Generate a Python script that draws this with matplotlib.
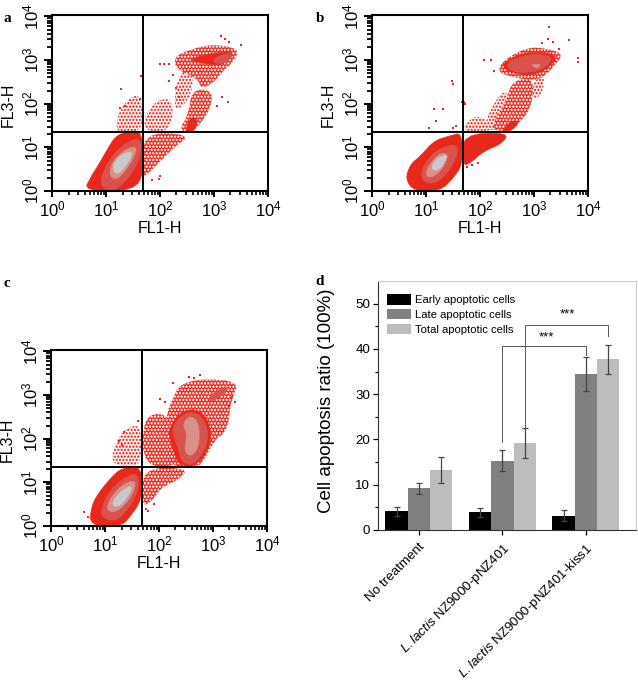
import numpy as np
import matplotlib
matplotlib.use("Agg")
import matplotlib.pyplot as plt
from matplotlib.ticker import LogLocator, NullFormatter

plt.rcParams['font.family'] = ['Liberation Sans', 'DejaVu Sans']
plt.rcParams['mathtext.fontset'] = 'custom'
plt.rcParams['mathtext.rm'] = 'Liberation Sans'
plt.rcParams['mathtext.it'] = 'Liberation Sans:italic'
plt.rcParams['hatch.linewidth'] = 0.3

# all flow cytometry outlines are (log10 FL1, log10 FL3)
RED = '#e8281a'
MED = '#d9534c'
PINK = '#d98f8a'
GREY = '#c9c9c9'

a_thin = [
    [(1.15,1.3),(1.25,1.9),(1.55,2.25),(1.67,2.0),(1.67,1.36)],
    [(1.7,1.36),(1.72,1.75),(1.95,2.1),(2.25,2.1),(2.2,1.36)],
    [(2.25,1.75),(2.3,2.6),(2.6,2.9),(2.6,2.2)],
]
a_speck = [
    [(1.67,1.34),(2.57,1.3),(2.26,1.0),(2.07,.77),(1.76,.38),(1.67,.34)],
    [(2.35,1.4),(2.51,1.72),(2.6,2.34),(2.98,2.3),(2.92,1.84),(2.7,1.49),(2.57,1.3)],
    [(2.26,3.07),(2.51,3.22),(2.95,3.37),(3.48,3.26),(3.35,2.95),(3.17,2.76),(3.0,2.49),(2.76,2.34),(2.7,2.57),(2.29,2.8)],
]
a_red = [
    [(.58,0),(.72,.34),(.86,.61),(1.02,.96),(1.17,1.26),(1.42,1.38),(1.67,1.36),(1.71,.46),(1.51,0)],
    [(2.45,1.3),(2.65,1.4),(2.7,1.65),(2.55,1.7)],
    [(2.5,3.0),(2.9,3.15),(3.4,3.2),(3.2,2.9),(2.9,2.9)],
]
a_med = [
    [(.89,.31),(1.08,.77),(1.36,1.11),(1.65,1.23),(1.64,.77),(1.42,.31),(1.2,.04),(1.02,0),(.92,.11)],
    [(3.0,3.07),(3.35,3.18),(3.26,2.95),(3.0,2.91)],
]
a_pink = [[(1.05,.46),(1.17,.77),(1.42,1.0),(1.58,1.0),(1.48,.69),(1.26,.31),(1.11,.27)]]
a_grey = [[(1.11,.57),(1.23,.8),(1.45,.92),(1.48,.8),(1.3,.46),(1.17,.38)]]
a_dots_x = [1.64,1.28,3.12,3.2,3.28,3.5,1.99,2.07,2.17,2.17,2.23,2.29,2.35,3.15,3.25,3.05,1.25,1.35,1.62,2.0,1.98,1.85]
a_dots_y = [2.64,2.34,3.56,3.48,3.42,3.34,2.91,2.91,2.91,2.53,2.65,2.35,2.15,2.15,2.05,1.95,1.9,1.95,2.1,.35,.27,.25]

b_thin = [
    [(2.05,1.4),(2.2,1.9),(2.45,2.35),(2.6,2.0),(2.4,1.4)],
    [(1.7,1.36),(1.72,1.55),(1.95,1.75),(2.2,1.55),(2.2,1.36)],
    [(3.0,2.55),(3.2,2.65),(3.15,2.2),(2.95,2.1)],
]
b_speck = [
    [(2.17,1.42),(2.48,2.07),(2.6,2.53),(3.0,2.6),(2.95,1.92),(2.76,1.61),(2.54,1.34)],
    [(2.32,2.72),(2.42,2.99),(2.88,3.3),(3.26,3.26),(3.54,3.14),(3.38,2.87),(3.2,2.64),(3.0,2.53),(2.64,2.6)],
]
b_red = [
    [(.61,.27),(.7,.61),(.89,.8),(1.14,1.15),(1.42,1.26),(1.67,1.34),(1.67,.61),(1.51,.31),(1.26,0),(.77,0)],
    [(1.67,1.3),(2.54,1.34),(2.39,1.07),(2.07,.92),(1.79,.61),(1.67,.61)],
    [(2.4,1.35),(2.55,1.35),(2.75,1.6),(2.55,1.6)],
    [(2.4,2.85),(2.5,3.0),(2.88,3.2),(3.45,3.14),(3.3,2.85),(3.0,2.65),(2.6,2.7)],
]
b_med = [
    [(.89,.23),(.95,.61),(1.17,.92),(1.48,1.07),(1.6,1.0),(1.51,.61),(1.2,.15)],
    [(2.48,2.95),(2.88,3.14),(3.35,3.1),(3.26,2.87),(3.0,2.72),(2.57,2.72)],
]
b_pink = [
    [(.98,.34),(1.05,.61),(1.26,.88),(1.42,.84),(1.3,.5),(1.11,.31)],
    [(2.92,2.9),(3.13,2.91),(3.07,2.8)],
]
b_grey = [[(1.08,.5),(1.17,.73),(1.36,.84),(1.39,.77),(1.23,.46)]]
b_dots_x = [1.47,1.5,1.15,1.3,1.05,1.17,1.67,1.7,1.72,1.68,3.27,3.15,3.25,3.35,3.65,3.82,3.82,3.47,2.07,2.2,2.25,1.5,1.55,1.75,1.85,1.95]
b_dots_y = [2.53,2.45,1.87,1.87,1.45,1.6,2.05,2.05,2.0,1.5,3.75,3.4,3.48,3.42,3.45,3.05,2.95,3.25,3.0,3.0,2.75,1.45,1.5,.55,.6,.65]

c_thin = [
    [(1.09,1.5),(1.25,2.12),(1.59,2.35),(1.67,2.1),(1.65,1.36),(1.3,1.36)],
]
c_speck = [
    [(1.7,1.36),(1.7,2.5),(2.1,2.6),(2.3,2.2),(2.4,1.36)],
    [(2.15,2.65),(2.27,2.96),(2.37,3.23),(2.77,3.38),(3.49,3.31),(3.33,2.88),(3.27,2.19),(3.02,1.96),(2.83,1.5),(2.71,1.35),(2.2,1.35),(2.1,2.0)],
    [(1.68,1.33),(2.55,1.33),(2.35,1.05),(2.05,.9),(1.85,.55),(1.68,.45)],
]
c_red = [
    [(.7,0),(.75,.5),(.9,.8),(1.1,1.1),(1.3,1.33),(1.68,1.38),(1.68,.6),(1.45,.2),(1.3,0)],
    [(2.15,2.2),(2.45,2.7),(2.85,2.6),(3.0,2.0),(2.75,1.4),(2.35,1.38),(2.25,1.8)],
]
c_med = [
    [(.9,.2),(.98,.6),(1.15,.9),(1.4,1.15),(1.62,1.2),(1.6,.75),(1.4,.35),(1.2,.1)],
    [(2.21,2.27),(2.52,2.65),(2.83,2.5),(2.93,1.96),(2.68,1.42),(2.43,1.42),(2.34,1.81)],
    [(3.0,3.08),(3.33,3.23),(3.15,2.96),(2.9,2.81)],
]
c_pink = [
    [(1.02,.4),(1.12,.7),(1.35,.98),(1.58,1.05),(1.5,.7),(1.3,.4),(1.12,.3)],
    [(2.43,2.35),(2.59,2.54),(2.74,2.35),(2.74,1.81),(2.59,1.58),(2.46,1.73),(2.52,2.1)],
]
c_grey = [
    [(1.12,.5),(1.22,.72),(1.45,.93),(1.5,.85),(1.35,.55),(1.2,.42)],
]
c_dots_x = [1.25,1.3,1.35,1.6,2.02,2.1,2.25,2.75,2.55,2.65,3.4,3.3,3.35,1.75,1.8,1.9,0.6,0.68]
c_dots_y = [1.95,1.85,2.15,2.4,2.9,2.85,3.28,3.45,3.42,3.4,2.85,2.75,2.95,.4,.35,.5,.32,.2]

categories = ['No treatment', r'$\mathit{L{.}lactis}$ NZ9000-pNZ401', r'$\mathit{L{.}lactis}$ NZ9000-pNZ401-kiss1']
early = [4.1, 3.9, 3.2]
late = [9.2, 15.3, 34.4]
total = [13.3, 19.2, 37.7]
early_err = [0.9, 1.0, 1.2]
late_err = [1.2, 2.3, 3.75]
total_err = [2.9, 3.4, 3.2]

W, H = 638, 685
fig = plt.figure(figsize=(W / 100, H / 100), dpi=100)


def axes_px(left, top, right, bottom):
    return fig.add_axes([left / W, 1 - bottom / H, (right - left) / W, (bottom - top) / H])


def rounded(poly):
    # cut the corners twice so the hand read outlines do not look like polygons
    xy = np.array(poly, dtype=float)
    for _ in range(2):
        nxt = np.roll(xy, -1, axis=0)
        xy = np.column_stack([0.75 * xy + 0.25 * nxt, 0.25 * xy + 0.75 * nxt]).reshape(-1, 2)
    return 10 ** xy[:, 0], 10 ** xy[:, 1]


def flow_panel(box, thin, speck, red, med, pink, grey, dots_x, dots_y):
    ax = axes_px(*box)
    ax.set_xscale('log')
    ax.set_yscale('log')
    for p in thin:
        ax.fill(*rounded(p), facecolor='white', edgecolor=RED, hatch='*****', lw=0)
    for p in speck:
        ax.fill(*rounded(p), facecolor=RED, edgecolor='white', hatch='*****', lw=0)
    for polys, col in [(red, RED), (med, MED), (pink, PINK), (grey, GREY)]:
        for p in polys:
            ax.fill(*rounded(p), color=col, lw=0.4)
    ax.scatter(10 ** np.array(dots_x), 10 ** np.array(dots_y), marker='s', s=2.0, color=RED, lw=0)
    ax.axvline(10 ** 1.68, color='black', lw=1.4)
    ax.axhline(10 ** 1.36, color='black', lw=1.4)
    ax.set_xlim(0.98, 10000)
    ax.set_ylim(1, 10800)
    for axis in (ax.xaxis, ax.yaxis):
        axis.set_minor_locator(LogLocator(base=10, subs=range(2, 10), numticks=6))
        axis.set_minor_formatter(NullFormatter())
    ax.set_xticks([1, 10, 100, 1000, 10000])
    ax.set_xticklabels([r'$\mathregular{10^{%d}}$' % i for i in range(5)], fontsize=12)
    ax.set_yticks([1, 10, 100, 1000, 10000])
    ax.set_yticklabels([r'$\mathregular{10^{%d}}$' % i for i in range(5)], fontsize=12, rotation=90, va='center')
    ax.tick_params(axis='x', which='major', length=4.2, width=1.4, pad=2)
    ax.tick_params(axis='x', which='minor', length=2.8, width=1.2)
    ax.tick_params(axis='y', which='major', length=5.5, width=1.4, pad=2)
    ax.tick_params(axis='y', which='minor', length=3.5, width=1.3)
    for s in ax.spines.values():
        s.set_linewidth(1.5)
    ax.set_xlabel('FL1-H', fontsize=11.5, labelpad=1)
    ax.set_ylabel('FL3-H', fontsize=11.5, labelpad=1)
    ax.yaxis.set_label_coords(-0.17, 0.49)
    return ax


flow_panel((52, 15, 268, 191), a_thin, a_speck, a_red, a_med, a_pink, a_grey, a_dots_x, a_dots_y)
flow_panel((372, 15, 588, 191), b_thin, b_speck, b_red, b_med, b_pink, b_grey, b_dots_x, b_dots_y)
flow_panel((51, 350, 267, 526), c_thin, c_speck, c_red, c_med, c_pink, c_grey, c_dots_x, c_dots_y)

# bar panel
ax = axes_px(378, 281, 636, 530)
x = np.arange(3)
bw = 0.267
err_kw = dict(ecolor='#444444', elinewidth=0.9, capsize=2.5, capthick=0.9)
ax.bar(x - bw, early, bw, yerr=early_err, color='black', error_kw=err_kw, label='Early apoptotic cells')
ax.bar(x, late, bw, yerr=late_err, color='#808080', error_kw=err_kw, label='Late apoptotic cells')
ax.bar(x + bw, total, bw, yerr=total_err, color='#bdbdbd', error_kw=err_kw, label='Total apoptotic cells')
ax.set_xlim(-0.49, 2.6)
ax.set_ylim(0, 55)
ax.set_yticks([0, 10, 20, 30, 40, 50])
ax.set_yticks([5, 15, 25, 35, 45], minor=True)
ax.set_xticks(x)
ax.set_xticklabels(categories, rotation=45, ha='right', rotation_mode='anchor', fontsize=9.6)
ax.tick_params(axis='y', labelsize=9.6, length=3.8, width=0.9, pad=2)
ax.tick_params(axis='y', which='minor', length=2.2, width=0.9)
ax.tick_params(axis='x', length=3.5, width=0.9, pad=4)
ax.spines['top'].set_color('#cccccc')
ax.spines['right'].set_color('#cccccc')
ax.spines['left'].set_color('#333333')
ax.spines['bottom'].set_color('#333333')
ax.set_ylabel('Cell apoptosis ratio (100%)', fontsize=13.5)
ax.yaxis.set_label_coords(-0.167, 0.52)
ax.legend(loc='upper left', frameon=False, fontsize=8.1, handlelength=2.15, handleheight=1.0,
          labelspacing=0.36, borderaxespad=0, bbox_to_anchor=(0.035, 0.946), handletextpad=0.3, borderpad=0)

# significance brackets
ax.plot([1.0, 1.0, 2.0, 2.0], [19.5, 40.7, 40.7, 38.6], color='#555555', lw=0.7)
ax.plot([1.27, 1.27, 2.27, 2.27], [22.5, 45.2, 45.2, 42.8], color='#555555', lw=0.7)
ax.text(1.53, 42.6, '***', ha='center', va='center', fontsize=9.5)
ax.text(1.78, 47.7, '***', ha='center', va='center', fontsize=9.5)

for letter, px, py in [('a', 4, 22), ('b', 316, 22), ('c', 4, 287), ('d', 315, 285)]:
    fig.text(px / W, 1 - py / H, letter, family='Liberation Serif', weight='bold', fontsize=11)

fig.savefig('out.png', dpi=100)
